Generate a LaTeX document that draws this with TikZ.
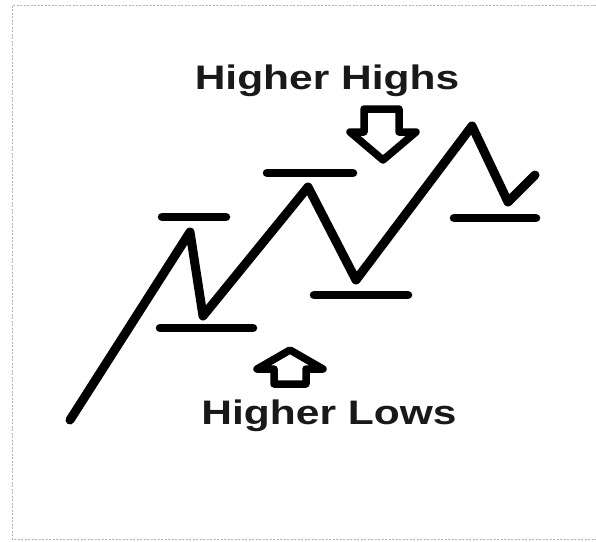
\documentclass[tikz,border=0pt]{standalone}
\usepackage{fontspec}
\setmainfont{Liberation Sans}
\usepackage{graphicx}
\usetikzlibrary{positioning}
\newcommand{\widetext}[1]{\scalebox{1.25}[1]{#1}}

\begin{document}
\begin{tikzpicture}[
        x=1pt, y=-1pt,
        trend/.style={line width=9pt, line cap=round, line join=round},
        level/.style={line width=8.5pt, line cap=round},
        blockarrow/.style={line width=7.5pt, line join=round, fill=white},
        caption/.style={font=\fontsize{34}{34}\selectfont\bfseries, text=black!90, inner sep=0pt, anchor=base},
        frame/.style={black!30, line width=1pt, dash pattern=on 2pt off 1.5pt}
    ]
        \useasboundingbox (0,0) rectangle (596,541);
        %=================== frame ===================
        \draw[frame] (596,5) -- (12,5) -- (12,539) -- (596,539);

        %=================== price path ===================
        \coordinate (s0) at (70,420);
        \coordinate (h1) at (190,232);
        \coordinate (l1) at (203,316);
        \coordinate (h2) at (308,187);
        \coordinate (l2) at (356,280);
        \coordinate (h3) at (472,126);
        \coordinate (l3) at (508,202);
        \coordinate (e0) at (535,175);
        \draw[trend] (s0) -- (h1) -- (l1) -- (h2) -- (l2) -- (h3) -- (l3) -- (e0);

        %=================== levels ===================
        \draw[level] (162,217) -- (226,217);
        \draw[level] (160,328) -- (253,328);
        \draw[level] (267,173) -- (353,173);
        \draw[level] (314,295) -- (408,295);
        \draw[level] (454,218) -- (536,218);

        %=================== labels and arrows ===================
        \node[caption] (highs) at (327,89) {\widetext{Higher Highs}};
        \node[caption] (lows) at (329,424) {\widetext{Higher Lows}};
        % down arrow
        \draw[blockarrow] (364,109) -- (399,109) -- (399,132) -- (416,132)
            -- (383,160) -- (350,132) -- (364,132) -- cycle;
        % up arrow
        \draw[blockarrow] (290,350) -- (323,369) -- (306,369) -- (306,384)
            -- (274,384) -- (274,369) -- (257,369) -- cycle;
    \end{tikzpicture}
\end{document}
